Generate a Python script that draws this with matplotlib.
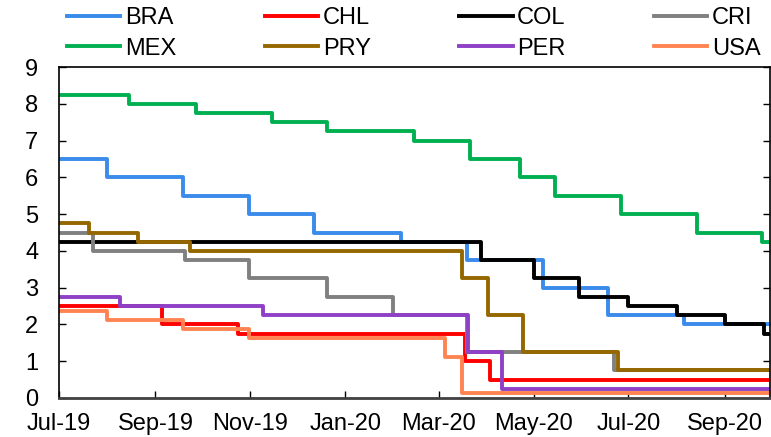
import matplotlib
matplotlib.use("Agg")
import matplotlib.pyplot as plt
import matplotlib.dates as mdates
import numpy as np
import pandas as pd

plt.rcParams['font.family'] = ['Liberation Sans', 'DejaVu Sans']

START = "2019-07-01"
END = "2020-09-30"

# Policy rate change dates and values (rate in effect from that date)
bra_dates = [START, "2019-08-01", "2019-09-19", "2019-10-31", "2019-12-12", "2020-02-06", "2020-03-19", "2020-05-07", "2020-06-18", "2020-08-06"]
bra_vals = [6.5, 6.0, 5.5, 5.0, 4.5, 4.25, 3.75, 3.0, 2.25, 2.0]

chl_dates = [START, "2019-09-05", "2019-10-24", "2020-03-18", "2020-04-03"]
chl_vals = [2.5, 2.0, 1.75, 1.0, 0.5]

col_dates = [START, "2020-03-28", "2020-05-01", "2020-05-30", "2020-07-01", "2020-08-01", "2020-09-01", "2020-09-26"]
col_vals = [4.25, 3.75, 3.25, 2.75, 2.5, 2.25, 2.0, 1.75]

cri_dates = [START, "2019-07-23", "2019-09-20", "2019-10-31", "2019-12-20", "2020-02-01", "2020-03-19", "2020-06-22"]
cri_vals = [4.5, 4.0, 3.75, 3.25, 2.75, 2.25, 1.25, 0.75]

mex_dates = [START, "2019-08-15", "2019-09-27", "2019-11-15", "2019-12-20", "2020-02-14", "2020-03-21", "2020-04-22", "2020-05-15", "2020-06-26", "2020-08-14", "2020-09-25"]
mex_vals = [8.25, 8.0, 7.75, 7.5, 7.25, 7.0, 6.5, 6.0, 5.5, 5.0, 4.5, 4.25]

pry_dates = [START, "2019-07-20", "2019-08-21", "2019-09-23", "2020-03-16", "2020-04-02", "2020-04-24", "2020-06-24"]
pry_vals = [4.75, 4.5, 4.25, 4.0, 3.25, 2.25, 1.25, 0.75]

per_dates = [START, "2019-08-09", "2019-11-09", "2020-03-20", "2020-04-11"]
per_vals = [2.75, 2.5, 2.25, 1.25, 0.25]

usa_dates = [START, "2019-08-01", "2019-09-19", "2019-10-31", "2020-03-05", "2020-03-16"]
usa_vals = [2.375, 2.125, 1.875, 1.625, 1.125, 0.125]

series = [
    ("BRA", bra_dates, bra_vals, "#3A8BEA"),
    ("CHL", chl_dates, chl_vals, "#FF0000"),
    ("COL", col_dates, col_vals, "#000000"),
    ("CRI", cri_dates, cri_vals, "#808080"),
    ("MEX", mex_dates, mex_vals, "#00B050"),
    ("PRY", pry_dates, pry_vals, "#956700"),
    ("PER", per_dates, per_vals, "#8E40C6"),
    ("USA", usa_dates, usa_vals, "#FF8452"),
]

fig = plt.figure(figsize=(7.71, 4.37), dpi=100)
ax = fig.add_axes([59/771, 1-398/437, (770-59)/771, (398-67)/437])

handles = {}
for name, d, v, c in series:
    dd = pd.to_datetime(list(d) + [END])
    vv = list(v) + [v[-1]]
    h, = ax.plot(dd, vv, drawstyle="steps-post", color=c, lw=2.8, label=name)
    handles[name] = h

ax.set_xlim(pd.Timestamp(START), pd.Timestamp(END))
ax.set_ylim(0, 9)
ax.set_yticks(range(0, 10))
ax.xaxis.set_major_locator(mdates.MonthLocator(bymonth=[1, 3, 5, 7, 9, 11]))
ax.xaxis.set_major_formatter(mdates.DateFormatter("%b-%y"))
ax.tick_params(axis="both", direction="in", labelsize=17, length=5, width=1)
ax.tick_params(axis="y", right=True, pad=15)
ax.tick_params(axis="x", pad=11)
for sp in ax.spines.values():
    sp.set_linewidth(1.2)
ax.spines["bottom"].set_color("#404040")
ax.spines["bottom"].set_linewidth(2)

order = ["BRA", "MEX", "CHL", "PRY", "COL", "PER", "CRI", "USA"]
fig.legend(handles=[handles[n] for n in order], ncol=4, loc="upper left",
           bbox_to_anchor=(65/771, 1 - 5/437),
           frameon=False, fontsize=17, handlelength=2.25, handletextpad=0.2,
           columnspacing=3.75, labelspacing=0.35, borderaxespad=0.0, borderpad=0.1)

fig.savefig("out.png", dpi=100)
